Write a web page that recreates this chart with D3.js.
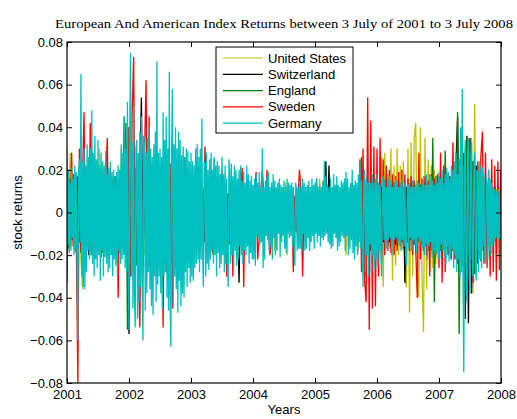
<!DOCTYPE html>
<html>
<head>
<meta charset="utf-8">
<script src="https://cdn.jsdelivr.net/npm/d3@7/dist/d3.min.js"></script>
<style>
  html, body { margin: 0; padding: 0; background: #fff; }
  svg { display: block; }
</style>
</head>
<body>
<script>
// Time span of the daily series and axis ticks
const startYear = 2001;
const endYear = 2008;
const yearTicks = [2001, 2002, 2003, 2004, 2005, 2006, 2007, 2008];
const returnTicks = [-0.08, -0.06, -0.04, -0.02, 0, 0.02, 0.04, 0.06, 0.08];

const seriesNames = ["United States", "Switzerland", "England", "Sweden", "Germany"];
const seriesColors = ["#bfbf00", "#000000", "#008000", "#ff0000", "#00bfbf"];

// Index returns, in thousandths (0.001), sampled evenly from 2001 to 2008
const usReturns = [
  30,-14,28,-16,12,-18,14,-20,15,-22,
  -36,20,-22,18,-16,14,-17,16,-14,18,
  -17,30,-15,20,-19,14,-18,16,-14,17,
  -18,13,-15,16,-19,30,-16,20,-25,14,
  -22,18,-20,16,-24,17,-19,15,-22,16,
  -20,16,-18,15,-22,18,-16,14,-19,16,
  -18,15,-20,17,-16,14,-19,16,-17,15,
  -16,14,-17,13,-15,12,-14,11,-13,12,
  -14,11,-12,9,-16,10,-8,12,-13,9,
  -10,8,-12,7,-20,9,-8,10,-9,7,
  -9,8,-11,6,-10,9,-7,8,-10,7,
  -8,9,-7,10,-11,6,-8,9,-7,8,
  -7,8,-9,6,-8,10,-7,8,-10,6,
  -8,9,-7,8,-18,7,-6,9,-8,7,
  -9,14,-20,8,-7,9,-8,7,-10,9,
  -7,8,-9,6,-10,8,-7,9,-8,10,
  -7,9,-8,16,-10,8,-7,8,-9,15,
  -8,10,-7,9,-11,8,-9,10,-8,11,
  -20,9,-12,10,-9,8,-7,10,-18,9,
  -12,10,-9,12,-11,9,-13,10,-9,14,
  -16,14,-15,26,-35,28,-15,18,-17,30,
  -32,22,-25,30,-20,22,-18,24,-30,-35,
  30,-47,33,-30,35,42,-28,-40,40,-30,
  -56,35,-36,25,-28,22,-26,20,-24,18,
  -18,16,-15,14,-17,15,-14,16,-18,14,
  -16,15,-19,14,-15,17,-18,15,-16,19,
  -20,35,-38,51,-24,22,-19,17,-18,15,
  -14,12,-13,11,-12,10,-12,11,-10,12,
  -11
];

const switzerlandReturns = [
  -18,13,-16,14,-13,16,-19,17,-14,20,
  -21,17,-16,18,-20,16,-14,18,-17,14,
  -16,18,-14,17,-19,16,-17,14,-13,16,
  -14,17,-16,13,-17,19,-14,45,-18,21,
  -57,22,-25,24,-26,20,-24,19,54,-25,
  20,-23,19,-25,22,-20,18,-23,19,-21,
  20,-24,22,-19,23,-21,19,-24,20,-18,
  17,-20,16,-19,15,-18,14,-16,13,-15,
  14,-16,12,-13,10,-15,12,-11,9,-14,
  11,-10,12,-9,8,-11,10,-8,9,-12,
  9,-8,10,-7,9,-8,10,-12,8,-9,
  8,-33,9,-8,7,-10,8,-7,9,-8,
  7,-9,8,-8,10,-7,9,-7,8,-9,
  7,-8,6,-9,10,-7,8,-9,7,-8,
  9,-7,6,-8,7,-6,8,-9,6,-7,
  7,-8,6,-7,9,-6,8,-8,6,-7,
  8,-7,9,-6,10,-8,7,24,-9,22,
  -8,7,-9,6,-8,10,-7,9,-6,8,
  -10,9,-8,11,-9,10,-12,8,-11,10,
  -14,12,-20,11,-16,14,-18,12,-14,13,
  -15,13,-16,12,-14,15,-13,12,-14,13,
  -12,14,-15,11,-13,12,-14,11,-33,12,
  -14,11,-13,12,-15,11,-12,13,-14,12,
  -13,14,-16,12,-17,15,-14,13,-16,14,
  -18,17,-15,14,-17,16,-20,17,-18,19,
  -21,24,45,-22,33,-24,28,-50,36,-52,
  35,-38,24,-26,22,-24,20,-22,17,-18,
  14,-15,12,-14,11,-13,12,-12,10,-11,
  12
];

const englandReturns = [
  14,-17,16,-13,18,-14,13,-16,14,-19,
  17,-20,18,-16,21,-18,16,-17,20,-14,
  18,-16,14,-19,17,-14,16,-13,18,-16,
  14,-17,13,-16,17,-14,20,-19,42,-55,
  40,-26,20,-24,21,-25,18,-23,19,-22,
  20,-23,18,-22,20,-19,18,-24,17,-20,
  19,-22,20,-23,19,-20,18,-22,17,-19,
  16,-18,15,-17,14,-16,13,-15,12,-14,
  14,-12,10,-15,12,-10,9,-13,11,-9,
  10,-12,8,-10,9,-9,11,-8,8,-10,
  9,-8,10,-7,8,-9,7,-8,8,-7,
  9,-8,7,-9,6,-8,7,-6,8,-7,
  7,-8,8,-6,7,-8,6,-7,9,-6,
  6,-8,7,-6,8,-7,6,-7,6,-8,
  6,-7,7,-6,8,-7,7,-6,7,-7,
  6,-7,8,-6,7,-8,6,-7,8,-6,
  7,-6,8,-7,6,-8,9,-7,6,-8,
  7,-9,6,-8,10,-7,8,-6,9,-7,
  10,-8,9,-11,8,-10,12,-9,11,-10,
  26,-28,14,-30,12,-14,15,-12,13,-15,
  14,-17,12,-14,16,-12,13,-15,12,-16,
  13,-14,11,-16,14,-12,13,-14,11,-13,
  12,-13,14,-11,13,-15,12,-14,13,-15,
  14,-16,13,-18,16,-18,35,-42,17,-14,
  17,-18,15,-17,29,-15,18,-19,17,-18,
  20,-22,47,-57,24,-25,22,-24,35,-20,
  19,-22,17,-29,20,-18,16,-23,14,-17,
  13,-15,12,-14,12,-13,11,-12,10,-11,
  12
];

const swedenReturns = [
  -33,14,-13,28,-16,18,-14,-80,30,-18,
  16,47,-22,18,-17,42,-20,21,-16,18,
  -18,17,-21,19,-17,16,35,-21,14,-17,
  16,-19,13,-40,14,-17,18,-16,21,-20,
  40,-30,45,73,-28,25,-27,-54,24,-30,
  26,62,-25,45,-28,23,-27,25,-30,21,
  -27,24,-54,22,-28,25,-27,23,-45,24,
  -26,21,-30,20,-24,19,26,-22,17,-20,
  14,-18,12,-15,10,-16,12,-13,-22,31,
  12,-10,13,-14,-19,25,11,-12,9,-12,
  20,-13,10,-30,9,-15,13,-30,8,-10,
  9,-12,11,21,-35,12,-10,9,-11,8,
  -10,9,19,-22,-12,10,20,8,-11,20,
  -9,-20,-10,9,-8,11,-9,7,-10,8,
  -9,7,-8,10,-7,11,-28,8,-9,7,
  20,9,-30,7,-9,8,-7,9,-8,7,
  -7,16,-8,9,-10,8,-9,7,-8,10,
  -6,9,-8,7,-10,9,-7,11,-9,8,
  -10,9,-8,11,-9,12,-11,10,-13,25,
  -28,30,-32,-42,54,-55,43,-45,31,-44,
  30,-30,35,-22,25,-20,22,-18,20,-19,
  18,-20,17,-18,19,-16,20,-17,18,-19,
  16,-18,17,-20,15,-18,-40,28,-22,16,
  -18,17,-20,15,-30,18,-17,16,-20,18,
  -26,28,-33,22,-28,17,-20,16,-22,33,
  -22,18,-24,20,-21,17,-19,15,-20,18,
  -25,20,-33,22,-28,24,-20,26,38,-24,
  28,-26,20,-30,25,-28,22,-32,24,-27,
  20
];

// Germany is sampled twice as densely as the other indices
const germanyReturns = [
  // 2001
  18,-15,20,-19,14,-18,21,-12,16,-20,
  22,-17,19,-24,-60,20,25,-14,65,-30,
  24,-35,30,-36,22,-28,32,-18,26,-22,
  30,-20,48,-24,28,-30,36,-22,25,-26,
  34,-20,22,-32,28,-18,24,-30,22,-21,
  29,-24,18,-28,21,-26,24,-20,19,-30,
  20,-22,17,-25,19,-30,22,-18,20,-24,
  32,-22,28,-20,45,-26,30,-28,52,-24,
  // 2002
  -55,40,75,-30,33,-45,50,-40,-54,30,
  34,-50,28,-42,38,-35,45,-32,-60,36,
  32,-46,28,-38,35,-28,40,-36,30,-44,
  26,-48,32,-30,38,-42,71,-34,28,-30,
  30,-38,26,-45,47,-30,34,-28,45,-40,
  30,-46,66,-40,-63,30,58,-45,32,-30,
  40,-36,30,-47,38,-32,34,-44,27,-38,
  31,-40,26,-28,30,-35,29,-26,24,-33,
  // 2003
  28,-30,24,-32,22,-26,30,-24,32,-22,
  26,-28,30,-22,44,-20,-35,24,22,-30,
  28,-24,20,-27,25,-22,28,-18,20,-24,
  26,-20,22,-30,24,-19,22,-26,18,-24,
  26,-20,18,-28,22,-24,16,-24,-35,25,
  18,-24,23,-20,17,-26,22,-18,20,-25,
  16,-22,20,-16,22,-20,15,-24,19,-18,
  14,-20,22,-16,18,-24,15,-19,17,-22,
  // 2004
  13,-22,16,-25,18,-11,14,-12,19,-15,
  12,-14,30,-26,12,-22,15,-11,17,-13,
  19,-18,12,-16,14,-22,18,-12,15,-20,
  12,-18,14,-10,16,-21,13,-14,12,-11,
  15,-17,12,-19,16,-10,14,-12,13,-11,
  14,-16,12,-13,-25,14,11,-18,12,-17,
  15,-17,12,-19,16,-10,14,-18,12,-17,
  13,-12,15,-18,12,-14,16,-11,13,-17,
  // 2005
  14,-10,16,-14,12,-11,13,-16,12,-12,
  15,-13,24,-11,17,-10,13,-14,12,-15,
  16,-17,12,-16,18,-10,13,-12,17,-18,
  13,-16,12,-14,15,-11,14,-12,16,-18,
  19,-11,16,-20,12,-17,14,-13,20,-19,
  13,-22,15,-16,14,-20,18,-14,24,-17,
  15,-18,-35,14,20,-28,16,-20,14,-30,
  17,-15,14,-28,18,-20,14,-27,16,-22,
  // 2006
  18,-25,14,-18,13,-20,-30,15,17,-13,
  15,-18,12,-17,16,-13,17,-12,15,-20,
  12,-16,14,-13,16,-12,15,-14,12,-15,
  14,-18,16,-13,12,-16,14,-20,-25,13,
  13,-17,14,-12,12,-18,15,-13,12,-15,
  13,-19,15,-12,14,-16,12,-14,13,-17,
  17,-20,13,-15,18,-22,13,-16,18,-14,
  17,-21,15,-18,13,-20,16,-19,14,-22,
  // 2007
  19,-22,16,-15,20,-18,14,-21,18,-24,
  21,-16,19,-23,16,-22,22,-17,20,-26,
  24,-20,28,-28,18,-22,25,-30,40,-28,
  58,-30,-75,25,34,-35,-42,28,35,-30,
  -38,26,33,-25,-30,22,28,-24,-32,20,
  19,-28,24,-22,22,-26,21,-16,18,-21,
  -24,16,14,-22,20,-18,16,-20,14,-16,
  12,-14,11,-12,10,-12,11,-13,10,-12,
  -10
];

const seriesValues = [usReturns, switzerlandReturns, englandReturns, swedenReturns, germanyReturns];

// ---- layout ----
const width = 517, height = 419;
const plot = { left: 67, right: 501, top: 42, bottom: 383 };

const svg = d3.select("body").append("svg")
  .attr("width", width).attr("height", height)
  .style("font-family", "'Liberation Sans', Arial, Helvetica, sans-serif");

svg.append("rect").attr("width", width).attr("height", height).attr("fill", "#fff");

const x = d3.scaleLinear().domain([startYear, endYear]).range([plot.left, plot.right]);
const y = d3.scaleLinear().domain([-0.08, 0.08]).range([plot.bottom, plot.top]);

svg.append("defs").append("clipPath").attr("id", "plot-clip")
  .append("rect")
  .attr("x", plot.left).attr("y", plot.top)
  .attr("width", plot.right - plot.left).attr("height", plot.bottom - plot.top);

// ---- series lines (drawn in legend order, Germany on top) ----
const lines = svg.append("g").attr("clip-path", "url(#plot-clip)");
seriesValues.forEach((vals, k) => {
  const n = vals.length;
  const line = d3.line()
    .x((d, i) => x(startYear + (endYear - startYear) * i / (n - 1)))
    .y(d => y(d / 1000));
  lines.append("path")
    .datum(vals)
    .attr("d", line)
    .attr("fill", "none")
    .attr("stroke", seriesColors[k])
    .attr("stroke-width", 1.3)
    .attr("stroke-linejoin", "bevel");
});

// ---- axes (ticks point inward, mirrored on all four sides) ----
const tickLen = 5;
const fmtY = v => v === 0 ? "0" : d3.format(".2f")(v);

const gx = svg.append("g").attr("transform", `translate(0,${plot.bottom})`)
  .call(d3.axisBottom(x).tickValues(yearTicks).tickFormat(d3.format("d"))
    .tickSizeInner(-tickLen).tickSizeOuter(0).tickPadding(7));
const gxTop = svg.append("g").attr("transform", `translate(0,${plot.top})`)
  .call(d3.axisTop(x).tickValues(yearTicks).tickFormat("")
    .tickSizeInner(-tickLen).tickSizeOuter(0));
const gy = svg.append("g").attr("transform", `translate(${plot.left},0)`)
  .call(d3.axisLeft(y).tickValues(returnTicks).tickFormat(fmtY)
    .tickSizeInner(-tickLen).tickSizeOuter(0).tickPadding(4));
const gyRight = svg.append("g").attr("transform", `translate(${plot.right},0)`)
  .call(d3.axisRight(y).tickValues(returnTicks).tickFormat("")
    .tickSizeInner(-tickLen).tickSizeOuter(0));

[gx, gxTop, gy, gyRight].forEach(g => {
  g.select(".domain").remove();
  g.selectAll(".tick line").attr("stroke", "#000").attr("stroke-width", 1);
  g.selectAll("text").attr("fill", "#000").attr("font-size", 13)
    .style("font-family", "'Liberation Sans', Arial, Helvetica, sans-serif");
});

svg.append("rect")
  .attr("x", plot.left).attr("y", plot.top)
  .attr("width", plot.right - plot.left).attr("height", plot.bottom - plot.top)
  .attr("fill", "none").attr("stroke", "#000").attr("stroke-width", 1.2);

// ---- titles ----
svg.append("text")
  .attr("x", (55 + 513) / 2).attr("y", 28)
  .attr("text-anchor", "middle")
  .attr("font-family", "'Liberation Serif', 'Times New Roman', serif")
  .attr("font-size", 13)
  .attr("textLength", 458).attr("lengthAdjust", "spacingAndGlyphs")
  .text("European And American Index Returns between 3 July of 2001 to 3 July 2008");

svg.append("text")
  .attr("x", (plot.left + plot.right) / 2).attr("y", 414)
  .attr("text-anchor", "middle").attr("font-size", 13)
  .text("Years");

svg.append("text")
  .attr("transform", `translate(22,${(plot.top + plot.bottom) / 2}) rotate(-90)`)
  .attr("text-anchor", "middle").attr("font-size", 13)
  .text("stock returns");

// ---- legend ----
const legend = svg.append("g");
const lg = { x: 216, y: 47, w: 137, h: 86 };
legend.append("rect")
  .attr("x", lg.x).attr("y", lg.y).attr("width", lg.w).attr("height", lg.h)
  .attr("fill", "#fff").attr("stroke", "#000").attr("stroke-width", 1);
seriesNames.forEach((name, k) => {
  const ry = lg.y + 11 + k * 16.3;
  legend.append("line")
    .attr("x1", lg.x + 7).attr("x2", lg.x + 47)
    .attr("y1", ry).attr("y2", ry)
    .attr("stroke", seriesColors[k]).attr("stroke-width", 1.2);
  legend.append("text")
    .attr("x", lg.x + 52).attr("y", ry).attr("dy", "0.35em")
    .attr("font-size", 13).attr("fill", "#000")
    .text(name);
});
</script>
</body>
</html>
